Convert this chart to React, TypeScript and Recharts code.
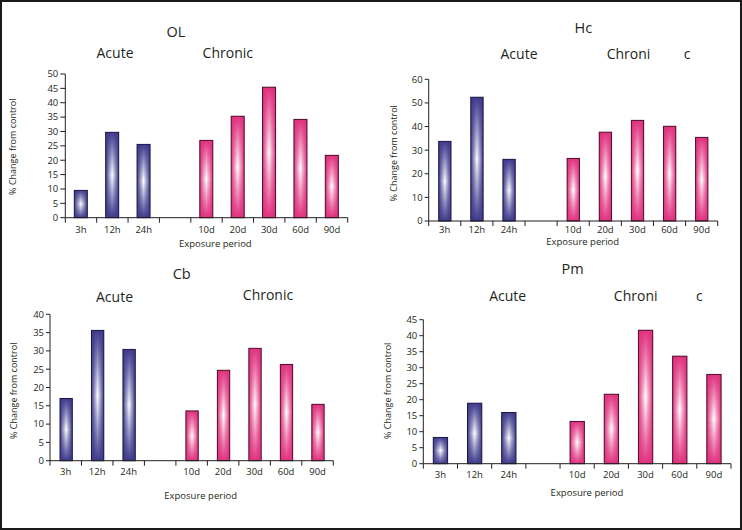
import React from 'react';
import { BarChart, Bar, XAxis, YAxis } from 'recharts';

// ---------- data ----------
const categories = ['3h', '12h', '24h', '', '10d', '20d', '30d', '60d', '90d'];
const phases = ['acute', 'acute', 'acute', 'gap', 'chronic', 'chronic', 'chronic', 'chronic', 'chronic'];

const olValues = [9.5, 29.7, 25.5, null, 26.9, 35.3, 45.4, 34.2, 21.7];
const hcValues = [33.7, 52.4, 26.1, null, 26.5, 37.6, 42.6, 40.1, 35.4];
const cbValues = [17.0, 35.6, 30.4, null, 13.6, 24.7, 30.7, 26.3, 15.4];
const pmValues = [8.2, 18.9, 16.0, null, 13.2, 21.7, 41.7, 33.6, 27.9];

const olTicks = [0, 5, 10, 15, 20, 25, 30, 35, 40, 45, 50];
const hcTicks = [0, 10, 20, 30, 40, 50, 60];
const cbTicks = [0, 5, 10, 15, 20, 25, 30, 35, 40];
const pmTicks = [0, 5, 10, 15, 20, 25, 30, 35, 40, 45];

const yLabel = '% Change from control';
const xLabel = 'Exposure period';

const buildRows = (values: (number | null)[]) =>
  categories.map((c, i) => ({ cat: c, phase: phases[i], value: values[i] }));

// ---------- layout ----------
const W = 742;
const H = 530;
const FONT = '"Open Sans", "DejaVu Sans", sans-serif';
const TEXT = '#231f20';
const Y_AXIS_W = 40;
const CAT_H = 20;

const panels = [
  {
    title: 'OL', values: olValues, ticks: olTicks,
    plot: { x0: 65.3, x1: 347.7, y0: 74, y1: 217.7 }, barSize: 13, labelGap: 8.5, yTick: 5,
    titlePos: { x: 176, y: 31.3 }, acute: { x: 115, y: 52.7 },
    chronic: [{ t: 'Chronic', x: 227.8, y: 52.7 }],
    yl: { x: 13, y: 146.7 }, xl: { x: 215.3, y: 243.7 },
  },
  {
    title: 'Hc', values: hcValues, ticks: hcTicks,
    plot: { x0: 428.7, x1: 717.7, y0: 79.3, y1: 221 }, barSize: 12.3, labelGap: 5, yTick: 4,
    titlePos: { x: 583.3, y: 27.7 }, acute: { x: 519, y: 53.3 },
    chronic: [{ t: 'Chroni', x: 628.5, y: 53.3 }, { t: 'c', x: 687, y: 53.3 }],
    yl: { x: 393.5, y: 153.3 }, xl: { x: 582.7, y: 241.3 },
  },
  {
    title: 'Cb', values: cbValues, ticks: cbTicks,
    plot: { x0: 50, x1: 333.3, y0: 314.3, y1: 460.7 }, barSize: 12.3, labelGap: 7.5, yTick: 4,
    titlePos: { x: 181.7, y: 273.7 }, acute: { x: 114.5, y: 296.3 },
    chronic: [{ t: 'Chronic', x: 268, y: 294.8 }],
    yl: { x: 13.3, y: 390.8 }, xl: { x: 200.7, y: 495.7 },
  },
  {
    title: 'Pm', values: pmValues, ticks: pmTicks,
    plot: { x0: 423.3, x1: 731, y0: 319.7, y1: 463.7 }, barSize: 14.3, labelGap: 7.8, yTick: 4,
    titlePos: { x: 572.7, y: 268.5 }, acute: { x: 507.7, y: 295.3 },
    chronic: [{ t: 'Chroni', x: 635.7, y: 295.3 }, { t: 'c', x: 699.3, y: 295.3 }],
    yl: { x: 388, y: 390.8 }, xl: { x: 587, y: 492 },
  },
];

const colors: Record<string, { base: string; stroke: string }> = {
  acute: { base: '#3e3a8c', stroke: '#1d1745' },
  chronic: { base: '#e0317e', stroke: '#4a0f2a' },
};

const BarShape = (props: any) => {
  const { x, y, width, height, payload } = props;
  if (!payload || payload.value == null || !height || height <= 0) return null;
  const ph = payload.phase === 'acute' ? 'acute' : 'chronic';
  const c = colors[ph];
  return (
    <g>
      <rect x={x} y={y} width={width} height={height} fill={`url(#h-${ph})`} />
      <rect x={x} y={y} width={width} height={height} fill={`url(#v-${ph})`} />
      <rect x={x} y={y} width={width} height={height} fill="none" stroke={c.stroke} strokeWidth={1} />
    </g>
  );
};

// category tick: label at band centre, tick marks at band boundaries
const makeCatTick = (labelGap: number) => (props: any) => {
  const { x, y, payload, index, width } = props;
  const half =
    payload && typeof payload.offset === 'number' && payload.offset > 0
      ? payload.offset
      : width / (2 * categories.length);
  const last = index === categories.length - 1;
  return (
    <g>
      <line x1={x - half} x2={x - half} y1={y} y2={y + 5} stroke={TEXT} strokeWidth={1} />
      {last && <line x1={x + half} x2={x + half} y1={y} y2={y + 5} stroke={TEXT} strokeWidth={1} />}
      <text
        x={x}
        y={y + labelGap}
        dy="0.71em"
        textAnchor="middle"
        fill={TEXT}
        fontSize={9.5}
        fontFamily={FONT}
      >
        {payload.value}
      </text>
    </g>
  );
};

const Panel = ({ p }: { p: (typeof panels)[number] }) => {
  const rows = buildRows(p.values);
  const maxY = p.ticks[p.ticks.length - 1];
  return (
    <div style={{ position: 'absolute', left: 0, top: 0 }}>
      <BarChart
        width={W}
        height={H}
        data={rows}
        margin={{
          left: p.plot.x0 - Y_AXIS_W,
          top: p.plot.y0,
          right: W - p.plot.x1,
          bottom: H - p.plot.y1 - CAT_H,
        }}
      >
        <XAxis
          dataKey="cat"
          type="category"
          interval={0}
          height={CAT_H}
          axisLine={{ stroke: TEXT, strokeWidth: 1 }}
          tickLine={false}
          tickSize={0}
          tickMargin={0}
          tick={makeCatTick(p.labelGap)}
        />
        <YAxis
          domain={[0, maxY]}
          ticks={p.ticks}
          interval={0}
          width={Y_AXIS_W}
          tickSize={p.yTick}
          tickMargin={2}
          axisLine={{ stroke: TEXT, strokeWidth: 1 }}
          tickLine={{ stroke: TEXT, strokeWidth: 1 }}
          tick={{ fill: TEXT, fontSize: 9.5, fontFamily: FONT }}
        />
        <Bar dataKey="value" barSize={p.barSize} shape={BarShape} isAnimationActive={false} />
      </BarChart>
    </div>
  );
};

const Gradients = () => (
  <defs>
    {Object.keys(colors).map((k) => (
      <React.Fragment key={k}>
        <linearGradient id={`h-${k}`} x1="0" y1="0" x2="1" y2="0">
          <stop offset="0" stopColor={colors[k].base} />
          <stop offset="0.5" stopColor="#ffffff" />
          <stop offset="1" stopColor={colors[k].base} />
        </linearGradient>
        <linearGradient id={`v-${k}`} x1="0" y1="0" x2="0" y2="1">
          <stop offset="0" stopColor={colors[k].base} stopOpacity={1} />
          <stop offset="0.5" stopColor={colors[k].base} stopOpacity={0} />
          <stop offset="1" stopColor={colors[k].base} stopOpacity={1} />
        </linearGradient>
      </React.Fragment>
    ))}
  </defs>
);

export default function App() {
  return (
    <div
      style={{
        position: 'absolute',
        left: 0,
        top: 0,
        width: W,
        height: H,
        background: '#ffffff',
        overflow: 'hidden',
      }}
    >
      <svg width={W} height={H} style={{ position: 'absolute', left: 0, top: 0 }}>
        <Gradients />
      </svg>
      {panels.map((p) => (
        <Panel key={p.title} p={p} />
      ))}
      <svg
        width={W}
        height={H}
        style={{ position: 'absolute', left: 0, top: 0, pointerEvents: 'none' }}
        fontFamily={FONT}
        fill={TEXT}
      >
        {panels.map((p) => (
          <g key={p.title}>
            <text x={p.titlePos.x} y={p.titlePos.y} fontSize={14.5} textAnchor="middle" dominantBaseline="central">
              {p.title}
            </text>
            <text x={p.acute.x} y={p.acute.y} fontSize={14} textAnchor="middle" dominantBaseline="central">
              Acute
            </text>
            {p.chronic.map((c, i) => (
              <text key={i} x={c.x} y={c.y} fontSize={14} textAnchor="middle" dominantBaseline="central">
                {c.t}
              </text>
            ))}
            <text
              x={p.yl.x}
              y={p.yl.y}
              fontSize={9}
              textAnchor="middle"
              dominantBaseline="central"
              transform={`rotate(-90 ${p.yl.x} ${p.yl.y})`}
            >
              {yLabel}
            </text>
            <text x={p.xl.x} y={p.xl.y} fontSize={9.5} textAnchor="middle" dominantBaseline="central">
              {xLabel}
            </text>
          </g>
        ))}
        <rect x={1} y={1} width={W - 2} height={H - 2} fill="none" stroke="#1a1a1a" strokeWidth={2} />
      </svg>
    </div>
  );
}
